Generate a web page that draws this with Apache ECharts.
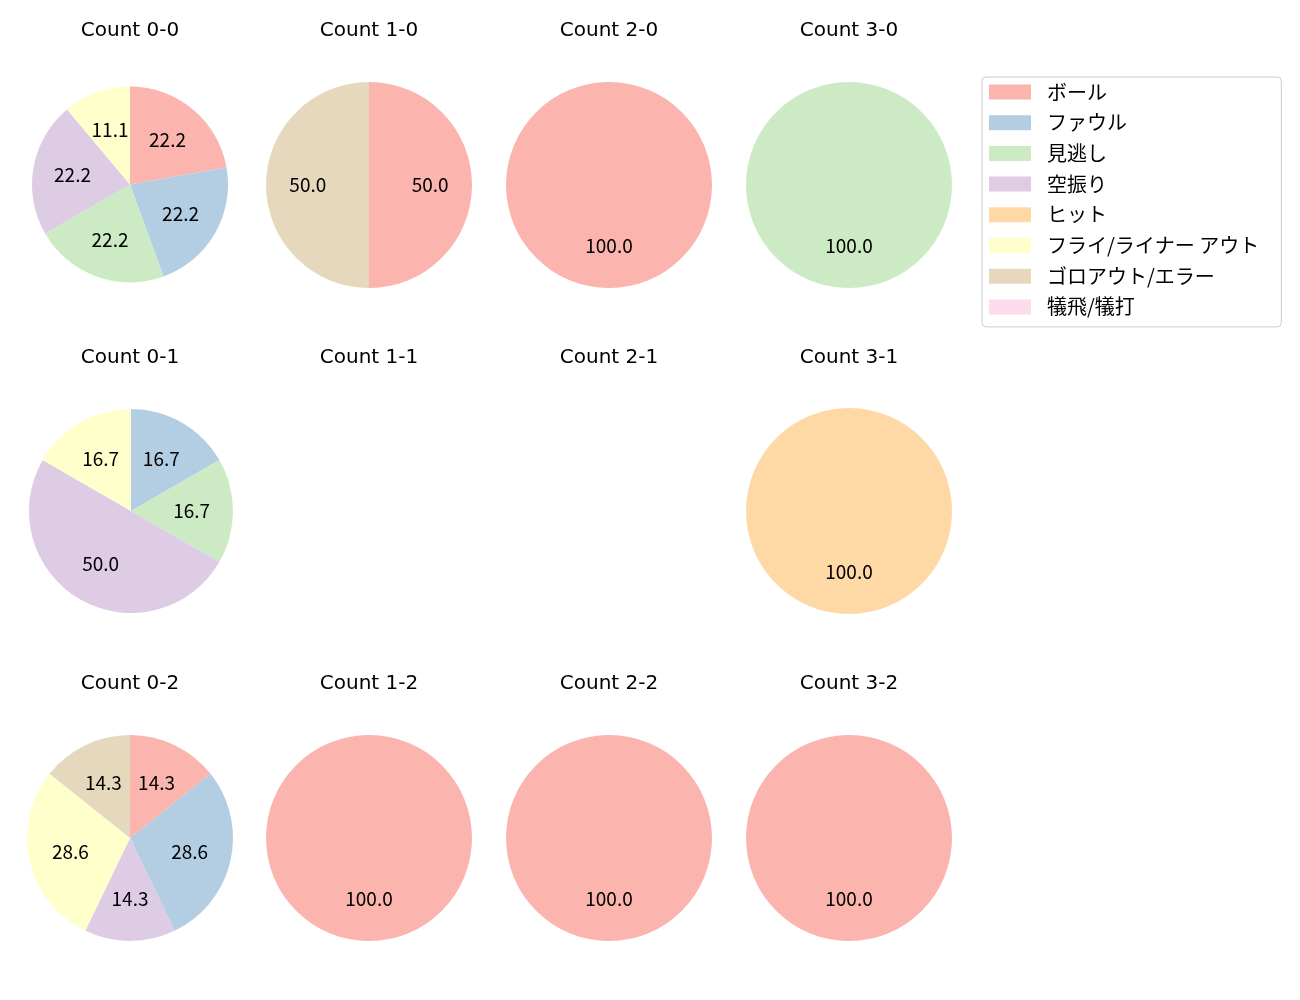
<!DOCTYPE html>
<html><head><meta charset="utf-8">
<script src="https://cdn.jsdelivr.net/npm/echarts@6/dist/echarts.min.js"></script>
<style>html,body{margin:0;padding:0;background:#fff}#c{width:1300px;height:1000px}</style>
</head><body><div id="c"></div>
<script>
const categories = ['ボール','ファウル','見逃し','空振り','ヒット','フライ/ライナー アウト','ゴロアウト/エラー','犠飛/犠打'];
const colors = ['#fbb4ae','#b3cde3','#ccebc5','#decbe4','#fed9a6','#ffffcc','#e5d8bd','#fddaec'];
const panelTitles = ['Count 0-0','Count 1-0','Count 2-0','Count 3-0','Count 0-1','Count 1-1','Count 2-1','Count 3-1','Count 0-2','Count 1-2','Count 2-2','Count 3-2'];
// counts per category for each panel (same order as panelTitles)
const count00 = [2,2,2,2,0,1,0,0];
const count10 = [1,0,0,0,0,0,1,0];
const count20 = [1,0,0,0,0,0,0,0];
const count30 = [0,0,1,0,0,0,0,0];
const count01 = [0,1,1,3,0,1,0,0];
const count11 = [0,0,0,0,0,0,0,0];
const count21 = [0,0,0,0,0,0,0,0];
const count31 = [0,0,0,0,1,0,0,0];
const count02 = [1,2,0,1,0,2,1,0];
const count12 = [1,0,0,0,0,0,0,0];
const count22 = [1,0,0,0,0,0,0,0];
const count32 = [1,0,0,0,0,0,0,0];
const panelCounts = [count00,count10,count20,count30,count01,count11,count21,count31,count02,count12,count22,count32];

const colX = [130, 369, 609, 849];
const rowY = [185, 511, 838];
const titleY = [31, 358, 684];
const FONT = 'Noto Sans CJK JP';

const titles = [];
const series = [];
panelTitles.forEach((t, i) => {
  const col = i % 4, row = Math.floor(i / 4);
  titles.push({text: t, left: colX[col], top: titleY[row], textAlign: 'center', textVerticalAlign: 'middle', padding: 0,
    textStyle: {fontFamily: 'DejaVu Sans', fontSize: 20, fontWeight: 'normal', color: '#000'}});
  const counts = panelCounts[i];
  const total = counts.reduce((a, b) => a + b, 0);
  if (total === 0) return;
  const data = [];
  counts.forEach((v, k) => { if (v > 0) data.push({name: categories[k], value: v, itemStyle: {color: colors[k]}}); });
  const r = (i === 0) ? 98 : (i === 4 ? 102 : 103);
  const center = [colX[col] + (i === 4 ? 1 : 0), rowY[row] + (i === 0 ? -0.5 : 0)];
  series.push({type: 'pie', center: center, radius: [0, r], startAngle: 90, clockwise: true,
    silent: true, animation: false, label: {show: false}, labelLine: {show: false},
    itemStyle: {borderWidth: 0}, emphasis: {disabled: true}, data: data});
  series.push({type: 'pie', center: center, radius: [0.13 * r, r], startAngle: 90, clockwise: true,
    silent: true, animation: false, avoidLabelOverlap: false, labelLine: {show: false},
    legendHoverLink: false,
    itemStyle: {color: 'rgba(0,0,0,0)', borderWidth: 0}, emphasis: {disabled: true},
    label: {show: true, position: 'inside', color: '#000', fontFamily: FONT, fontSize: 19,
      formatter: p => (p.value / total * 100).toFixed(1)},
    data: data.map(d => ({name: d.name, value: d.value, itemStyle: {color: 'rgba(0,0,0,0)'}}))});
});
// legend carrier series (not visible)
series.push({type: 'pie', center: [-500, -500], radius: [0, 1], silent: true, animation: false,
  label: {show: false}, labelLine: {show: false},
  data: categories.map((c, k) => ({name: c, value: 1, itemStyle: {color: colors[k]}}))});

const chart = echarts.init(document.getElementById('c'), null, {renderer: 'canvas'});
chart.setOption({
  backgroundColor: '#fff',
  animation: false,
  title: titles,
  legend: {data: categories, orient: 'vertical', left: 982, top: 77, selectedMode: false,
    icon: 'rect', itemWidth: 42, itemHeight: 15, itemGap: 10.7,
    padding: [5, 22, 10, 7], backgroundColor: '#fff', borderColor: '#cccccc', borderWidth: 1, borderRadius: 4,
    textStyle: {fontFamily: FONT, fontSize: 20, lineHeight: 20, color: '#000', padding: [0, 0, 0, 11]}},
  series: series
});
</script></body></html>
